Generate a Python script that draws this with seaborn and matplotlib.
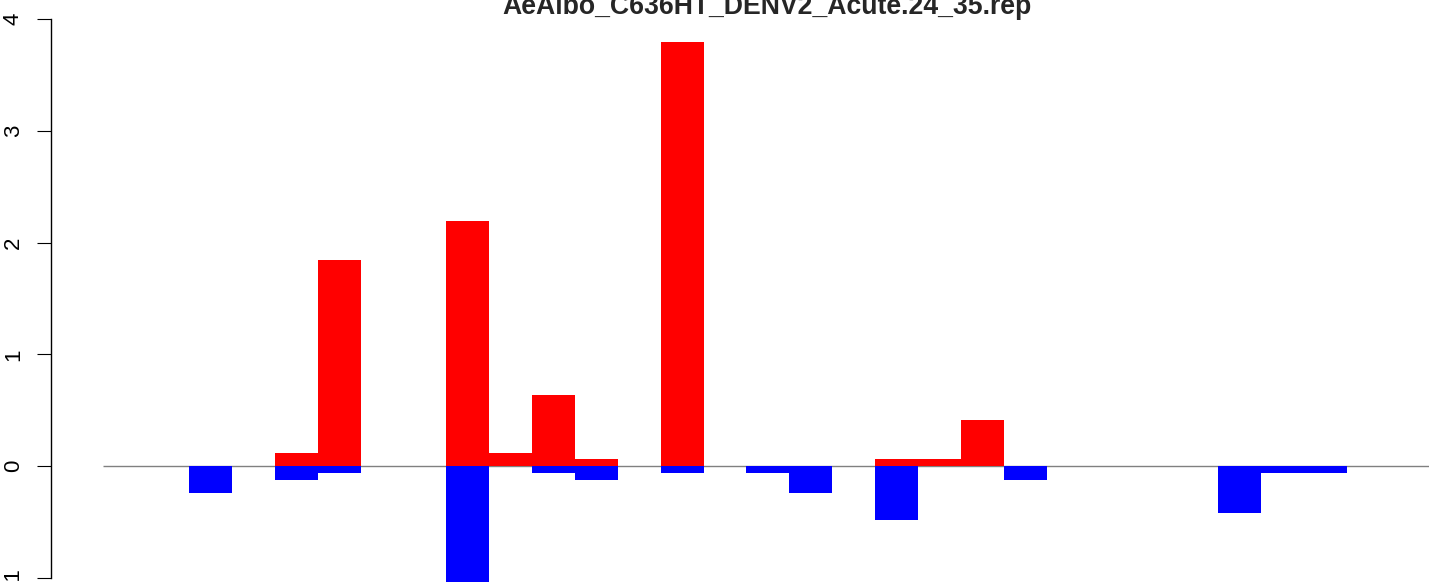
import numpy as np
import pandas as pd
import matplotlib
matplotlib.use("Agg")
import matplotlib.pyplot as plt
import seaborn as sns

# values, one per bar slot
title = "AeAlbo_C636HT_DENV2_Acute.24_35.rep"
slots = list(range(30))
up_vals = [0, 0, 0, 0, 0.12, 1.84, 0, 0, 2.19, 0.12,
           0.64, 0.06, 0, 3.79, 0, 0, 0, 0, 0.06, 0.06,
           0.41, 0, 0, 0, 0, 0, 0, 0, 0, 0]
down_vals = [0, 0, -0.24, 0, -0.12, -0.06, 0, 0, -1.05, 0,
             -0.06, -0.12, 0, -0.06, 0, -0.06, -0.24, 0, -0.48, 0,
             0, -0.12, 0, 0, 0, 0, -0.42, -0.06, -0.06, 0]
y_ticks = [-1, 0, 1, 2, 3, 4]

df = pd.DataFrame({"slot": slots, "up": up_vals, "down": down_vals})

sns.set_style("white")
plt.rcParams["font.family"] = ["Liberation Sans", "DejaVu Sans"]

fig = plt.figure(figsize=(14.29, 5.82), dpi=100)
ax = fig.add_axes([0, 0, 1, 1])

# zero line under the bars
ax.hlines(0, -0.5, 31, color="#808080", lw=1.0, zorder=0)

sns.barplot(data=df, x="slot", y="up", color="#ff0000", saturation=1,
            width=1, linewidth=0, ax=ax, zorder=2)
sns.barplot(data=df, x="slot", y="down", color="#0000ff", saturation=1,
            width=1, linewidth=0, ax=ax, zorder=2)

ax.set_xlim(-2.908, 30.42)
ax.set_ylim(-1.036, 4.17)
ax.set_xlabel("")
ax.set_ylabel("")
ax.set_xticks([])

for side in ["top", "right", "bottom"]:
    ax.spines[side].set_visible(False)
ax.spines["left"].set_position(("data", -1.719))
ax.spines["left"].set_bounds(-1, 4)
ax.spines["left"].set_linewidth(1.0)
ax.spines["left"].set_color("black")
ax.set_yticks(y_ticks)
ax.set_yticklabels([str(t) for t in y_ticks])
ax.tick_params(axis="y", left=True, direction="out", length=10.1, width=0.8,
               pad=9.5, labelsize=16, labelrotation=90, colors="black")
for lab in ax.get_yticklabels():
    lab.set_va("center")
ax.patch.set_alpha(0)

fig.text(767 / 1429, 1 - 14 / 582, title, ha="center", va="baseline",
         fontsize=19.2, fontweight="bold")

fig.savefig("out.png", dpi=100)
